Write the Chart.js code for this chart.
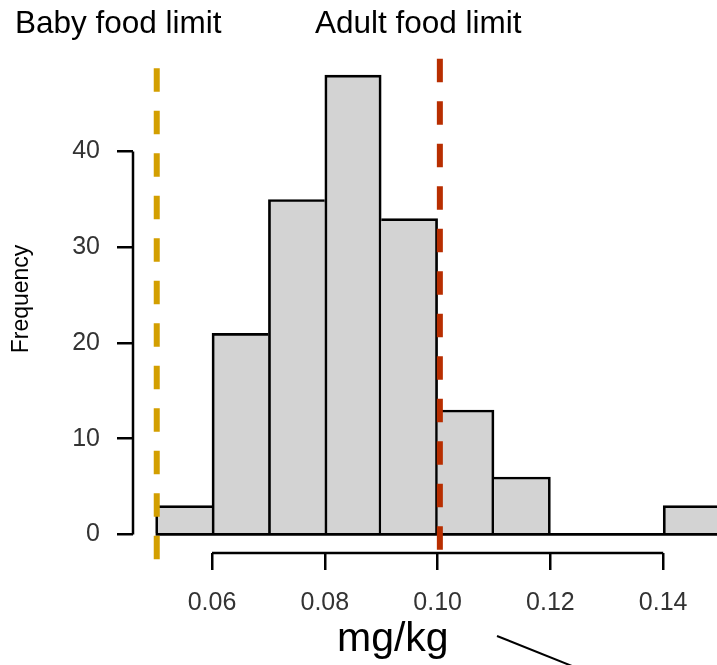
<!DOCTYPE html>
<html>
<head>
<meta charset="utf-8">
<script src="https://cdn.jsdelivr.net/npm/chart.js@4.4.1/dist/chart.umd.min.js"></script>
<style>
  body { margin: 0; background: #fff; }
  #wrap { position: relative; width: 717px; height: 665px; overflow: hidden; font-family: "Liberation Sans", Arial, sans-serif; }
  .lbl { position: absolute; color: #000; white-space: nowrap; line-height: 1; }
  #pointer { position: absolute; left: 0; top: 0; }
</style>
</head>
<body>
<div id="wrap">
  <canvas id="hist" width="717" height="665"></canvas>
  <div class="lbl" style="left:15px; top:7px; font-size:31.5px;">Baby food limit</div>
  <div class="lbl" style="left:315px; top:7px; font-size:31.5px;">Adult food limit</div>
  <div class="lbl" style="left:337px; top:617px; font-size:41px;">mg/kg</div>
  <svg id="pointer" width="717" height="665"><line x1="497" y1="636" x2="577" y2="668" stroke="#000" stroke-width="2"/></svg>
</div>
<script>
// histogram bins (mg/kg) and counts
const binEdges = [0.05, 0.06, 0.07, 0.08, 0.09, 0.10, 0.11, 0.12, 0.13, 0.14, 0.15];
const counts = [3, 21, 35, 48, 33, 13, 6, 0, 0, 3];
const xTicks = [0.06, 0.08, 0.10, 0.12, 0.14];
const yTicks = [0, 10, 20, 30, 40];

// limit lines: x position and vertical span (in count units)
const babyLimit = 0.0502;
const babySpan = [48.7, -2.7];
const adultLimit = 0.1004;
const adultSpan = [49.7, -1.6];

Chart.defaults.font.family = '"Liberation Sans", Arial, sans-serif';

const histPoints = counts.map((c, i) => ({ x: (binEdges[i] + binEdges[i + 1]) / 2, y: c }));

// R style axis lines that only span the tick range
const rAxes = {
    id: 'rAxes',
    beforeDatasetsDraw(chart) {
        const { ctx, chartArea, scales } = chart;
        ctx.save();
        ctx.strokeStyle = '#000';
        ctx.lineWidth = 2.5;
        ctx.beginPath();
        ctx.moveTo(chartArea.left, scales.y.getPixelForValue(yTicks[0]));
        ctx.lineTo(chartArea.left, scales.y.getPixelForValue(yTicks[yTicks.length - 1]));
        ctx.moveTo(scales.x.getPixelForValue(xTicks[0]), chartArea.bottom);
        ctx.lineTo(scales.x.getPixelForValue(xTicks[xTicks.length - 1]), chartArea.bottom);
        ctx.stroke();
        ctx.restore();
    }
};

const ctx = document.getElementById('hist').getContext('2d');

new Chart(ctx, {
    type: 'bar',
    data: {
        datasets: [
            {
                type: 'line',
                data: babySpan.map(v => ({ x: babyLimit, y: v })),
                borderColor: '#D39F00',
                borderWidth: 6,
                borderDash: [23.5, 19],
                borderCapStyle: 'butt',
                pointRadius: 0,
                clip: false,
                order: 1
            },
            {
                type: 'line',
                data: adultSpan.map(v => ({ x: adultLimit, y: v })),
                borderColor: '#B82E00',
                borderWidth: 6,
                borderDash: [23.5, 19],
                borderCapStyle: 'butt',
                pointRadius: 0,
                clip: false,
                order: 1
            },
            {
                type: 'line',
                data: [{ x: binEdges[0], y: 0 }, { x: binEdges[binEdges.length - 1], y: 0 }],
                borderColor: '#000',
                borderWidth: 2.7,
                pointRadius: 0,
                clip: false,
                order: 2
            },
            {
                type: 'bar',
                data: histPoints,
                backgroundColor: '#D3D3D3',
                borderColor: '#000',
                borderWidth: c => {
                    const i = c.dataIndex;
                    const h = counts[i];
                    const prev = i > 0 ? counts[i - 1] : 0;
                    const next = i < counts.length - 1 ? counts[i + 1] : 0;
                    return { top: 2.7, bottom: 0, left: h >= prev ? 2.7 : 0, right: h > next ? 2.7 : 0 };
                },
                borderSkipped: 'start',
                barPercentage: 1,
                categoryPercentage: 1,
                clip: false,
                order: 3
            }
        ]
    },
    options: {
        responsive: false,
        animation: false,
        layout: { padding: { top: 45, left: 0, right: 0, bottom: 0 } },
        plugins: {
            legend: { display: false },
            tooltip: { enabled: false }
        },
        scales: {
            x: {
                type: 'linear',
                offset: false,
                min: 0.04599,
                max: 0.14954,
                afterBuildTicks: s => { s.ticks = xTicks.map(v => ({ value: v })); },
                afterFit: s => { s.height = 112; },
                border: { display: false },
                grid: { offset: false, drawOnChartArea: false, drawTicks: true, tickLength: 17, color: '#000', lineWidth: 2.5 },
                ticks: {
                    callback: v => v.toFixed(2),
                    font: { size: 25 },
                    color: '#333',
                    padding: 18,
                    maxRotation: 0
                }
            },
            y: {
                min: -1.944,
                max: 51.14,
                afterBuildTicks: s => { s.ticks = yTicks.map(v => ({ value: v })); },
                afterFit: s => { s.width = 133; },
                border: { display: false },
                grid: { drawOnChartArea: false, drawTicks: true, tickLength: 16, color: '#000', lineWidth: 2.5 },
                ticks: {
                    font: { size: 25 },
                    color: '#333',
                    padding: 17
                },
                title: {
                    display: true,
                    text: 'Frequency',
                    color: '#000',
                    font: { size: 23 },
                    padding: { top: 8, bottom: 0 }
                }
            }
        }
    },
    plugins: [rAxes]
});
</script>
</body>
</html>
